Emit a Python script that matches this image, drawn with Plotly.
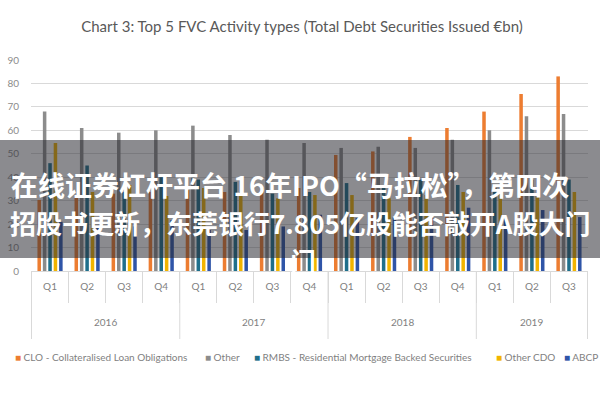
import plotly.graph_objects as go

years = ["2016"] * 4 + ["2017"] * 4 + ["2018"] * 4 + ["2019"] * 3
quarters = ["Q1", "Q2", "Q3", "Q4"] * 3 + ["Q1", "Q2", "Q3"]
year_labels = ["2016", "2017", "2018", "2019"]

series_names = [
    "CLO - Collateralised Loan Obligations",
    "Other",
    "RMBS - Residential Mortgage Backed Securities",
    "Other CDO",
    "ABCP",
]
clo = [30.3, 31.6, 33, 33.7, 34.5, 33.7, 35.4, 35.4, 49.5, 51, 57.2, 61, 68, 75.5, 83]
other = [68, 61, 59, 60, 62, 58, 56, 54.6, 52.5, 53, 52.5, 56, 60, 66, 67]
rmbs = [46, 45, 33.7, 40, 39, 38, 33, 33.7, 37.5, 35.4, 39, 36.7, 35.4, 39, 39]
other_cdo = [54.6, 33.7, 36.7, 32, 35.4, 33.7, 31, 32.4, 32.4, 31, 32.4, 33.7, 33.7, 33, 33.7]
abcp = [21, 19, 19, 21.7, 17.5, 17.5, 19, 24, 22.6, 23, 22.6, 27, 22.6, 26, 23]

colors = ["#ED7D31", "#8C8C8C", "#1F6F8B", "#F2B400", "#2F55A8"]
values = [clo, other, rmbs, other_cdo, abcp]

title_text = "Chart 3: Top 5 FVC Activity types (Total Debt Securities Issued €bn)"
banner_lines = [
    "在线证券杠杆平台 16年IPO“马拉松”，第四次",
    "招股书更新，东莞银行7.805亿股能否敲开A股大门",
    "门",
]

font_main = "Lato, Open Sans, Arial, sans-serif"
keys = [y + " " + q for y, q in zip(years, quarters)]

fig = go.Figure()
for name, vals, col in zip(series_names, values, colors):
    fig.add_trace(go.Bar(name=name, x=keys, y=vals, marker_color=col,
                         marker_line_width=0, showlegend=False, hoverinfo="skip"))

# plot area pixels: x 31..588, y 60..271
def py(p):
    return (271 - p) / 211.0

def px(p):
    return (p - 31) / 557.0

fig.update_layout(
    width=600, height=400,
    margin=dict(l=31, r=12, t=60, b=129),
    paper_bgcolor="white", plot_bgcolor="white",
    barmode="group", bargap=0.27, bargroupgap=0.35,
    font=dict(family=font_main, color="#7F7F7F", size=10),
    title=dict(text=title_text, x=302 / 600, xanchor="center", y=1 - 27 / 400, yanchor="middle",
               font=dict(family=font_main, size=15, color="#595959")),
    showlegend=False,
    xaxis=dict(type="category", showgrid=False, showline=True, linecolor="#D9D9D9",
               ticks="outside", tickson="boundaries", ticklen=31, tickcolor="#D9D9D9",
               tickvals=keys, ticktext=quarters, automargin=False, ticklabelstandoff=6,
               tickfont=dict(size=10, color="#7F7F7F")),
    yaxis=dict(range=[0, 90], dtick=10, showgrid=True, gridcolor="#D9D9D9", zeroline=False,
               showline=False, ticks="", automargin=False, ticklabelstandoff=11,
               tickfont=dict(size=10, color="#8C8C8C")),
)

# year dividers and labels
bounds = [-0.5, 3.5, 7.5, 11.5, 14.5]
for b in bounds:
    fig.add_shape(type="line", xref="x", yref="paper", x0=b, x1=b, y0=0, y1=py(339),
                  line=dict(color="#D9D9D9", width=1))
for i, yl in enumerate(year_labels):
    center = (bounds[i] + bounds[i + 1]) / 2
    fig.add_annotation(text=yl, xref="x", yref="paper", x=center, y=py(322),
                       xanchor="center", yanchor="middle", showarrow=False,
                       font=dict(family=font_main, size=10, color="#7F7F7F"))

# legend
legend_x = [13, 203, 252, 494, 562]
for name, col, lx in zip(series_names, colors, legend_x):
    fig.add_annotation(text="<span style='color:%s'>■</span> %s" % (col, name),
                       xref="paper", yref="paper", x=px(lx), y=py(357),
                       xanchor="left", yanchor="middle", showarrow=False,
                       font=dict(family=font_main, size=10, color="#7F7F7F"))

fig.add_shape(type="rect", xref="paper", yref="paper", x0=px(-5), x1=px(605),
              y0=py(258), y1=py(140), fillcolor="rgba(40,40,48,0.54)", line_width=0,
              layer="above")

for txt, cx, cy, fs in zip(banner_lines, [290, 300, 303], [184, 222, 260], [27, 26, 26]):
    fig.add_annotation(text="<b>" + txt + "</b>", xref="paper", yref="paper",
                       x=px(cx), y=py(cy), xanchor="center", yanchor="middle",
                       showarrow=False,
                       font=dict(family="Noto Sans CJK SC", size=fs, color="white"))

fig.write_html("out.html", config={"displayModeBar": False},
               post_script="document.body.style.margin='0';document.body.style.overflow='hidden';")
